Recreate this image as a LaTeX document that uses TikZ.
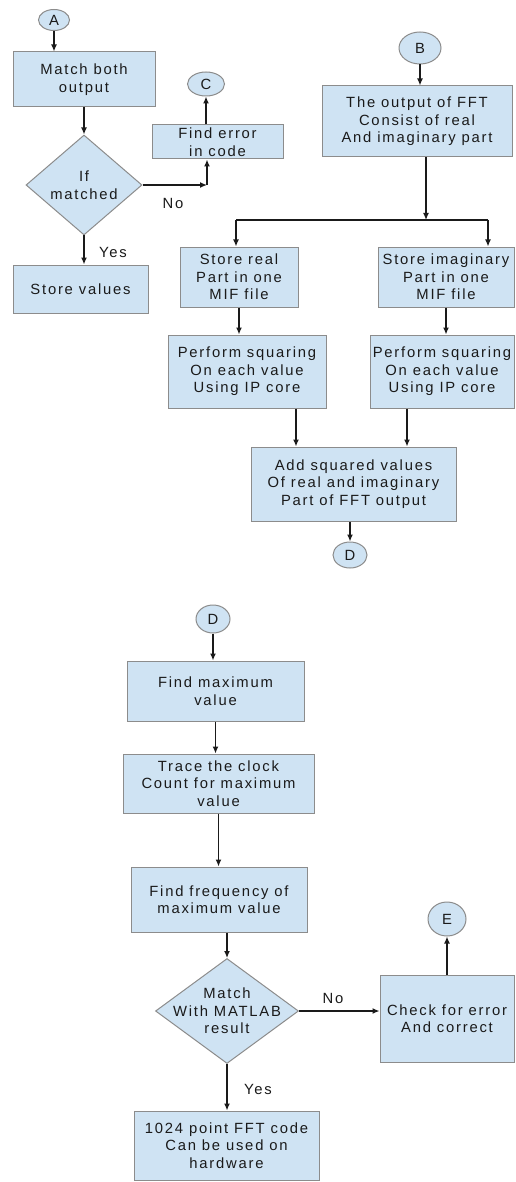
\documentclass[tikz,border=0pt]{standalone}
\usepackage{fontspec}
\setmainfont{Liberation Sans}[LetterSpace=12]
\usetikzlibrary{shapes.geometric,arrows.meta}
\definecolor{boxfill}{HTML}{CFE3F3}
\definecolor{boxline}{HTML}{8C8C8C}
\definecolor{ink}{HTML}{1A1A1A}
\tikzset{
  base/.style={fill=boxfill, draw=boxline, line width=1pt, text=ink, align=center, inner sep=0pt,
    font=\fontsize{14.8}{17.5}\selectfont},
  box/.style={base, rectangle},
  conn/.style={base, ellipse},
  dia/.style={base, diamond},
  txt/.style={text=ink, align=center, inner sep=0pt, font=\fontsize{14.8}{17.5}\selectfont},
  arr/.style={draw=ink, line width=1.3pt, -{Latex[length=7pt,width=6pt]}},
  ln/.style={draw=ink, line width=1.3pt},
}
\begin{document}
\begin{tikzpicture}[x=1pt,y=-1pt]
\useasboundingbox (0,0) rectangle (516,1182);
\fill[white] (0,0) rectangle (516,1182);
% left top
\node[conn, minimum width=31pt, minimum height=21pt] (A) at (54,20) {A};
\node[box, minimum width=142pt, minimum height=55pt] (m1) at (84,79.5) {Match both\\output};
\node[dia, minimum width=116pt, minimum height=100pt] (d1) at (84,185) {};
\node[txt] (d1t) at (84,185) {If\\matched};
\node[box, minimum width=135pt, minimum height=48pt] (sv) at (80.5,289) {Store values};
\node[box, minimum width=131pt, minimum height=34pt] (fe) at (217.5,142) {Find error\\in code};
\node[conn, minimum width=37pt, minimum height=24pt] (C) at (206,84) {C};
\coordinate (turn) at (207,185);
% right top
\node[conn, minimum width=42pt, minimum height=32pt] (B) at (420,48) {B};
\node[box, minimum width=190pt, minimum height=71pt] (ob) at (417,121.5) {The output of FFT\\Consist of real\\And imaginary part};
\coordinate (jn) at (426,220);
\coordinate (jl) at (236,220);
\coordinate (jr) at (488,220);
\node[box, minimum width=118pt, minimum height=60pt] (sr) at (239,277) {Store real\\Part in one\\MIF file};
\node[box, minimum width=136pt, minimum height=60pt] (si) at (446,277) {Store imaginary\\Part in one\\MIF file};
\node[box, minimum width=158pt, minimum height=73pt] (p1) at (247,371.5) {Perform squaring\\On each value\\Using IP core};
\node[box, minimum width=144pt, minimum height=73pt] (p2) at (442,371.5) {Perform squaring\\On each value\\Using IP core};
\coordinate (p1o) at (296,0);
\coordinate (p2o) at (407,0);
\node[box, minimum width=205pt, minimum height=74pt] (ad) at (353.5,484) {Add squared values\\Of real and imaginary\\Part of FFT output};
\node[conn, minimum width=34pt, minimum height=26pt] (D1) at (350,555) {D};
% bottom
\node[conn, minimum width=34pt, minimum height=28pt] (D2) at (213,619) {D};
\node[box, minimum width=177pt, minimum height=60pt] (fm) at (215.5,691) {Find maximum\\value};
\node[box, minimum width=191pt, minimum height=59pt] (tr) at (218.5,783.5) {Trace the clock\\Count for maximum\\value};
\node[box, minimum width=176pt, minimum height=65pt] (ff) at (219,899.5) {Find frequency of\\maximum value};
\node[dia, minimum width=143pt, minimum height=105pt] (d2) at (227,1011) {};
\node[txt] (d2t) at (227,1011) {Match\\With MATLAB\\result};
\node[box, minimum width=134pt, minimum height=87pt] (ck) at (447,1018.5) {Check for error\\And correct};
\node[conn, minimum width=38pt, minimum height=34pt] (E) at (447,919) {E};
\node[box, minimum width=185pt, minimum height=69pt] (fin) at (226.5,1145.5) {1024 point FFT code\\Can be used on\\hardware};
% labels
\node[txt] (l1) at (173,203) {No};
\node[txt] (l2) at (113,252) {Yes};
\node[txt] (l3) at (333,998) {No};
\node[txt] (l4) at (258,1089) {Yes};
% connectors
\draw[arr] (A.south) -- (m1.north -| A.south);
\draw[arr] (m1.south) -- (d1.north);
\draw[arr] (d1.south) -- (sv.north -| d1.south);
\draw[arr] (d1.east) -- (turn);
\draw[arr] (turn) -- (fe.south -| turn);
\draw[arr] (fe.north -| C.south) -- (C.south);
\draw[arr] (B.south) -- (ob.north -| B.south);
\draw[arr] (ob.south -| jn) -- (jn);
\draw[ln] (jl) -- (jr);
\draw[arr] (jl) -- (jl |- sr.north);
\draw[arr] (jr) -- (jr |- si.north);
\draw[arr] (sr.south) -- (sr.south |- p1.north);
\draw[arr] (si.south) -- (si.south |- p2.north);
\draw[arr] (p1.south -| p1o) -- (ad.north -| p1o);
\draw[arr] (p2.south -| p2o) -- (ad.north -| p2o);
\draw[arr] (ad.south -| D1.south) -- (D1.north);
\draw[arr] (D2.south) -- (fm.north -| D2.south);
\draw[arr] (fm.south) -- (fm.south |- tr.north);
\draw[arr] (tr.south) -- (tr.south |- ff.north);
\draw[arr] (ff.south -| d2.north) -- (d2.north);
\draw[arr] (d2.south) -- (d2.south |- fin.north);
\draw[arr] (d2.east) -- (ck.west |- d2.east);
\draw[arr] (ck.north -| E.south) -- (E.south);
\end{tikzpicture}
\end{document}
